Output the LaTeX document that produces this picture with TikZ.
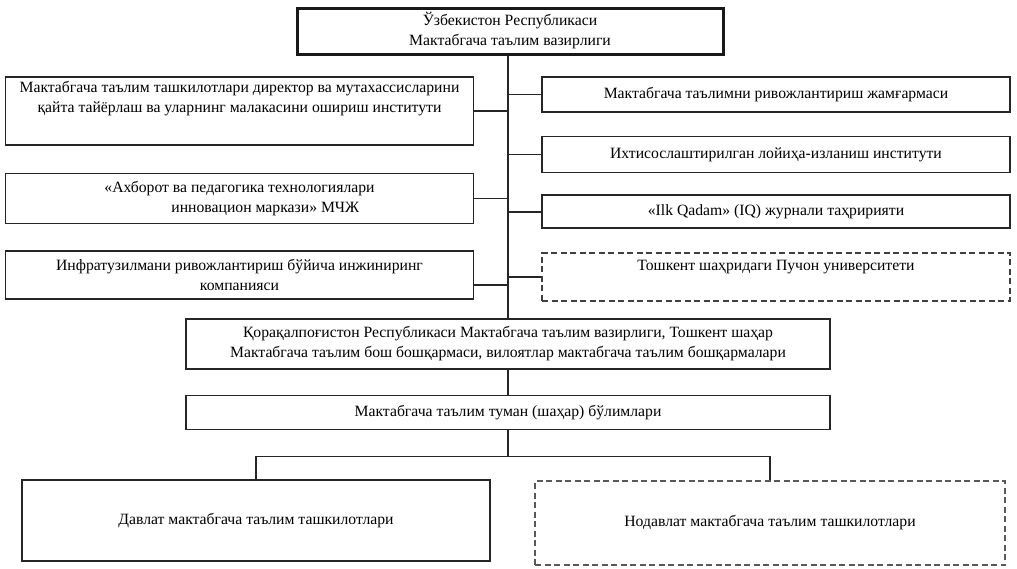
\documentclass[tikz,border=0pt]{standalone}
\usepackage{fontspec}
\setmainfont{Liberation Serif}
\usetikzlibrary{positioning}

\begin{document}
\begin{tikzpicture}[
    x=1pt, y=-1pt,
    every node/.style = {font=\fontsize{15.7}{20}\selectfont},
    box/.style      = {rectangle, draw=black!85, line width=1.6pt,
                       align=center, inner sep=2pt},
    headbox/.style  = {box, draw=black!90, line width=3pt,
                       minimum width=426pt, minimum height=46pt},
    sidebox/.style  = {box, minimum width=468pt},
    widebox/.style  = {box, minimum width=644pt},
    dashbox/.style  = {box, draw=black!75, dash pattern=on 6pt off 3.5pt},
    link/.style     = {draw=black!85, line width=1.6pt}
]
\useasboundingbox (0,0) rectangle (1017,568);

\node[headbox] (min) at (510,31) {Ўзбекистон Республикаси\\Мактабгача таълим вазирлиги};

% left column
\node[sidebox, minimum height=68pt] (inst) at (239.5,111)
    {\parbox[c][60pt][t]{460pt}{\centering Мактабгача таълим ташкилотлари директор ва мутахассисларини\\
     қайта тайёрлаш ва уларнинг малакасини ошириш институти}};
\node[sidebox, minimum height=50pt, align=left, below=27pt of inst] (axb)
    {«Ахборот ва педагогика технологиялари\\ \hspace*{67pt}инновацион маркази» МЧЖ};
\node[sidebox, minimum height=48pt, below=26pt of axb] (inf)
    {Инфратузилмани ривожлантириш бўйича инжиниринг\\компанияси};

% right column
\node[sidebox, minimum height=35pt] (fond) at (776,94.5) {Мактабгача таълимни ривожлантириш жамғармаси};
\node[sidebox, minimum height=36pt, below=23pt of fond] (loy) {Ихтисослаштирилган лойиҳа-изланиш институти};
\node[sidebox, minimum height=33pt, below=21pt of loy] (iq) {«Ilk Qadam» (IQ) журнали таҳририяти};
\node[sidebox, dashbox, minimum height=48pt, below=23pt of iq] (puc)
    {\parbox[c][34pt][t]{460pt}{\centering Тошкент шаҳридаги Пучон университети}};

% lower levels
\node[widebox, minimum height=50pt] (reg) at (508,344)
    {Қорақалпоғистон Республикаси Мактабгача таълим вазирлиги, Тошкент шаҳар\\
     Мактабгача таълим бош бошқармаси, вилоятлар мактабгача таълим бошқармалари};
\node[widebox, minimum height=34pt, below=25pt of reg] (tum) {Мактабгача таълим туман (шаҳар) бўлимлари};
\node[sidebox, minimum height=81pt] (dav) at (256,520.5) {Давлат мактабгача таълим ташкилотлари};
\node[sidebox, dashbox, draw=black!65, minimum width=470pt, minimum height=84pt] (nodav) at (770,523)
    {Нодавлат мактабгача таълим ташкилотлари};

\draw[link] (min.south -| reg.north) -- (reg.north);
\draw[link] (inst.east) -- (inst.east -| reg.north);
\draw[link] (axb.east) -- (axb.east -| reg.north);
\draw[link] ([yshift=-10pt]inf.east) -- ([yshift=-10pt]inf.east -| reg.north);
\draw[link] (fond.west) -- (fond.west -| reg.north);
\draw[link] (loy.west) -- (loy.west -| reg.north);
\draw[link] (iq.west) -- (iq.west -| reg.north);
\draw[link] (puc.west) -- (puc.west -| reg.north);
\draw[link] (reg) -- (tum);
\draw[link] (tum.south) -- ++(0,26) -| (dav.north);
\draw[link] (tum.south) -- ++(0,26) -| (nodav.north);
\end{tikzpicture}
\end{document}
